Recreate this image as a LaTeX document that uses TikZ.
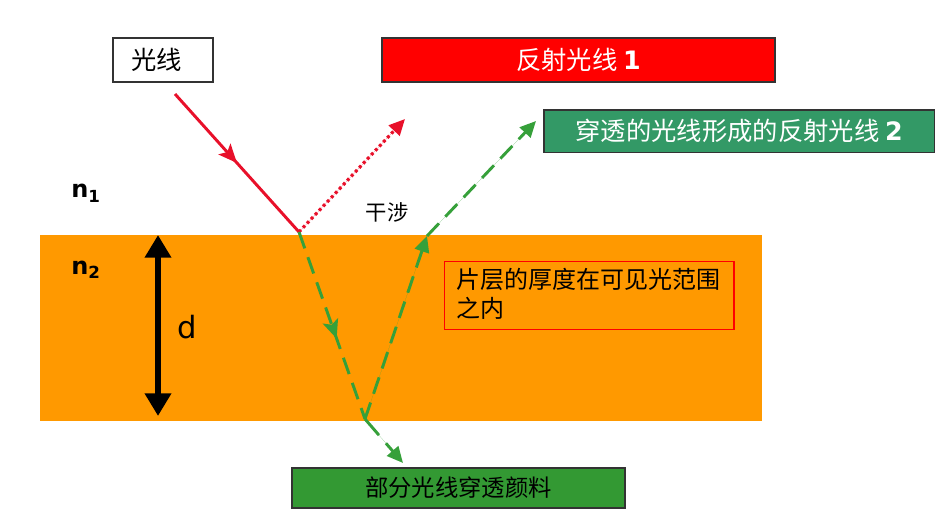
\documentclass[tikz,border=0pt]{standalone}
\usepackage{fontspec}
\setmainfont{DejaVu Sans}
\newfontfamily\cjk{Noto Sans CJK SC}
\newfontfamily\dvs{DejaVu Sans}
\usetikzlibrary{arrows.meta,decorations.markings}
\definecolor{orangelayer}{HTML}{FF9900}
\definecolor{boxred}{HTML}{FF0000}
\definecolor{seagreen}{HTML}{339966}
\definecolor{leafgreen}{HTML}{339933}
\definecolor{rayred}{HTML}{E8102A}
\definecolor{raygreen}{HTML}{36A03A}
\definecolor{frame}{HTML}{333333}
\tikzset{
  labelbox/.style={draw=frame, line width=1.2pt, minimum height=33pt, inner sep=0pt},
  bigtxt/.style={font=\cjk\fontsize{19}{23}\selectfont},
  redray/.style={draw=rayred, line width=2.2pt},
  greenray/.style={draw=raygreen, line width=2.2pt, dash pattern=on 13pt off 7pt},
  endtip/.style={-{Triangle[length=12pt,width=11pt]}},
  midred/.style={postaction={decorate}, decoration={markings, mark=at position 0.5 with {\arrow{Stealth[length=14pt,width=12pt,inset=3pt]}}}},
  midgreen/.style={postaction={decorate}, decoration={markings, mark=at position 0.57 with {\arrow{Stealth[length=14pt,width=12pt,inset=3pt]}}}},
}
\begin{document}
\begin{tikzpicture}[x=0.75pt,y=-0.75pt]
\useasboundingbox (0,0) rectangle (942,531);
% layer
\fill[orangelayer] (40,235) rectangle (762,421);
% boxes
\node[labelbox, fill=white, minimum width=75pt, anchor=north west, text width=63pt, align=left, bigtxt] (light) at (112,37) {\hspace*{8pt}光线};
\node[labelbox, fill=boxred, minimum width=295pt, anchor=north west, text=white, bigtxt] (refl1) at (381,37) {反射光线 {\dvs\bfseries 1}};
\node[labelbox, fill=seagreen, minimum width=293pt, minimum height=32pt, anchor=north west, text=white, bigtxt] (refl2) at (543,109) {穿透的光线形成的反射光线 {\dvs\bfseries 2}};
\node[labelbox, fill=leafgreen, minimum width=250pt, minimum height=30pt, anchor=north west, font=\cjk\fontsize{17.5}{21}\selectfont] (pig) at (291,467) {部分光线穿透颜料};
\node[draw=boxred, line width=1.1pt, minimum width=217pt, minimum height=51pt, anchor=north west] (thick) at (444,261) {};
\node[anchor=north west, align=left, inner sep=0pt, font=\cjk\fontsize{18}{21.5}\selectfont] (thicktxt) at (456,268) {片层的厚度在可见光范围\\之内};
% labels
\node[font=\cjk\fontsize{16}{19}\selectfont] (interf) at (387,212) {干涉};
\node[font=\dvs\bfseries\fontsize{18}{21}\selectfont, anchor=base west, inner sep=0pt] (n1) at (71,198) {n\raisebox{-3.5pt}{\fontsize{12.5}{13}\selectfont 1}};
\node[font=\dvs\bfseries\fontsize{18}{21}\selectfont, anchor=base west, inner sep=0pt] (n2) at (71,274) {n\raisebox{-3.5pt}{\fontsize{12.5}{13}\selectfont 2}};
\node[font=\dvs\fontsize{23}{27}\selectfont, anchor=base west, inner sep=0pt] (d) at (177,338) {d};
% thickness arrow
\coordinate (dtop) at (158,235);
\coordinate (dbot) at (158,416);
\draw[line width=5.2pt, {Triangle[length=17pt,width=19pt]}-{Triangle[length=17pt,width=19pt]}] (dtop) -- (dbot);
% rays
\coordinate (start) at (175,94);
\coordinate (P) at (299,232);
\coordinate (T1) at (405,119);
\coordinate (B) at (365,419);
\coordinate (S) at (427,236);
\coordinate (T2) at (536,121);
\coordinate (T3) at (403,463);
\draw[redray, midred] (start) -- (P);
\draw[draw=rayred, line width=2.4pt, dash pattern=on 2.2pt off 2.2pt, -{Triangle[length=12pt,width=11pt]}, fill=rayred] (P) -- (T1);
\draw[greenray, midgreen] (P) -- (B);
\draw[greenray, endtip, fill=raygreen] (B) -- (S);
\draw[greenray, endtip, fill=raygreen] (S) -- (T2);
\draw[greenray, endtip, fill=raygreen, dash pattern=on 16pt off 8pt] (B) -- (T3);
\end{tikzpicture}
\end{document}
